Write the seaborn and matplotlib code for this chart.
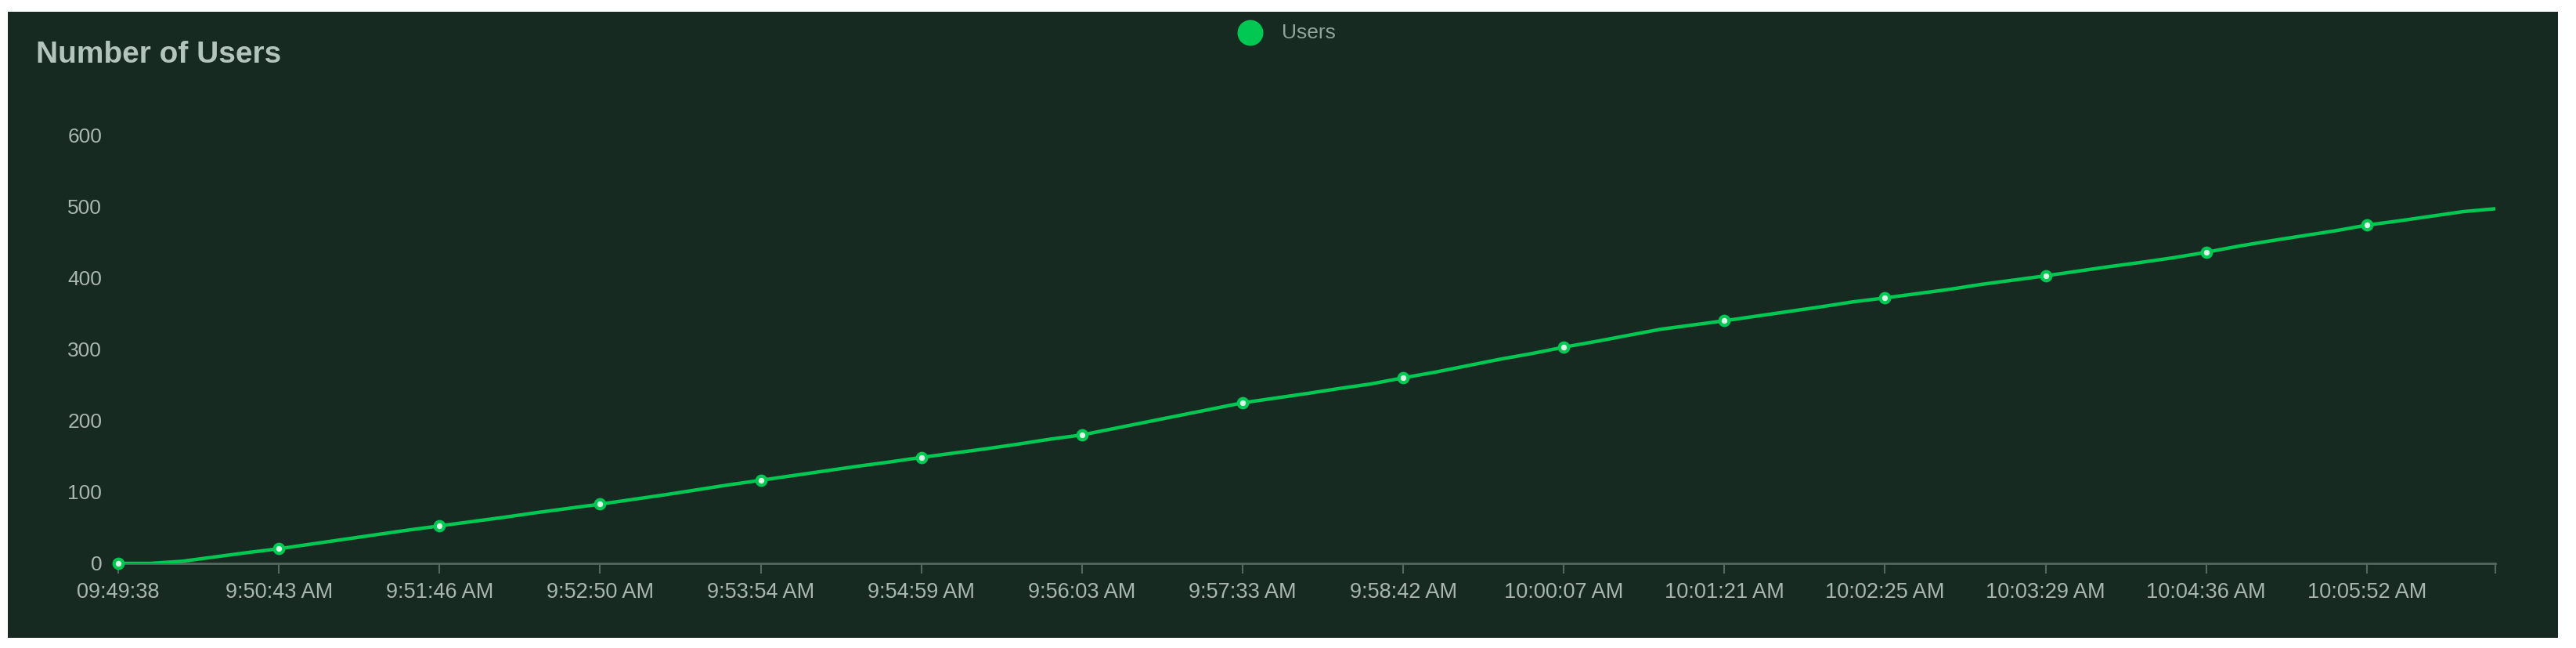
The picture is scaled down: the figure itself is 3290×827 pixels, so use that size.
import matplotlib
matplotlib.use("Agg")
import matplotlib.pyplot as plt
import seaborn as sns
import pandas as pd
import numpy as np

# ---- data ----
users = [
    0,
    0, 3, 9, 15, 20.5,
    27, 33.5, 40, 46.5, 52.5,
    58.5, 64.5, 71, 77, 83,
    89.5, 96, 103, 110, 116.5,
    123, 129.5, 136, 142, 148.5,
    154.5, 160.5, 167, 174, 180,
    189, 198, 207, 216, 225,
    231.5, 238, 245, 251.5, 260,
    268, 277, 286, 294, 303,
    311, 319.5, 328, 334, 340,
    346.5, 353, 359.5, 366.5, 372,
    378, 384, 391, 397, 403,
    409.5, 416, 422, 428.5, 436,
    444.5, 452, 459, 466, 474,
    480, 486.5, 493, 497,
]
tick_labels = [
    "09:49:38", "9:50:43 AM", "9:51:46 AM", "9:52:50 AM", "9:53:54 AM",
    "9:54:59 AM", "9:56:03 AM", "9:57:33 AM", "9:58:42 AM", "10:00:07 AM",
    "10:01:21 AM", "10:02:25 AM", "10:03:29 AM", "10:04:36 AM", "10:05:52 AM",
]
y_ticks = [0, 100, 200, 300, 400, 500, 600]
series_name = "Users"
title = "Number of Users"

LABEL_STEP = 5

# ---- style ----
BG = "#162a22"
GREEN = "#00c853"
TEXT = "#aab6b0"
AXIS = "#56675f"

sns.set_theme(style="dark")
plt.rcParams["font.family"] = ["Liberation Sans", "DejaVu Sans"]

fig = plt.figure(figsize=(32.9, 8.27), dpi=100)
fig.patch.set_facecolor("white")
# dark panel
panel = plt.Rectangle((10 / 3290, 1 - 814 / 827), (3267 - 10) / 3290, (814 - 15) / 827,
                      transform=fig.transFigure, facecolor=BG, edgecolor="none", zorder=-10)
fig.patches.append(panel)

ax = fig.add_axes([151 / 3290, 1 - 719 / 827, (3187 - 151) / 3290, (719 - 172.6) / 827])
ax.set_facecolor("none")
ax.set_zorder(1)

df = pd.DataFrame({"idx": np.arange(len(users)), "users": users})
sns.lineplot(data=df, x="idx", y="users", ax=ax, color=GREEN, linewidth=3.2, zorder=3)
mk = df[df["idx"] % LABEL_STEP == 0]
sns.scatterplot(data=mk, x="idx", y="users", ax=ax, marker="o", s=70,
                facecolor="#d9f7e4", edgecolor=GREEN, linewidth=3.0, zorder=4, clip_on=False)

ax.set_xlim(0, len(users) - 1)
ax.set_ylim(0, 600)
ax.set_xlabel("")
ax.set_ylabel("")
ax.grid(False)

tick_pos = list(range(0, len(users), LABEL_STEP))
ax.set_xticks(tick_pos + [len(users) - 1])
ax.set_xticklabels(tick_labels + [""])
ax.set_yticks(y_ticks)
ax.set_yticklabels([str(v) for v in y_ticks])

for s in ["top", "right", "left"]:
    ax.spines[s].set_visible(False)
ax.spines["bottom"].set_color(AXIS)
ax.spines["bottom"].set_linewidth(2)
ax.spines["bottom"].set_zorder(2)

ax.tick_params(axis="x", which="both", bottom=True, length=9, width=1.5, color=AXIS,
               labelsize=19.5, labelcolor=TEXT, pad=8)
ax.tick_params(axis="y", which="both", left=False, length=0, labelsize=19,
               labelcolor=TEXT, pad=15)

# title
fig.text(46 / 3290, 1 - 70 / 827, title, fontsize=28, fontweight="bold",
         color="#b3c4bc", ha="left", va="center")

# legend
fig.patches.append(matplotlib.patches.Ellipse((1597 / 3290, 1 - 42 / 827), 33 / 3290, 33 / 827,
                                              transform=fig.transFigure, facecolor=GREEN,
                                              edgecolor="none", zorder=5))
fig.text(1637 / 3290, 1 - 42 / 827, series_name, fontsize=19, color="#8fa39a",
         ha="left", va="center")

fig.savefig("out.png", dpi=100, facecolor=fig.get_facecolor())
